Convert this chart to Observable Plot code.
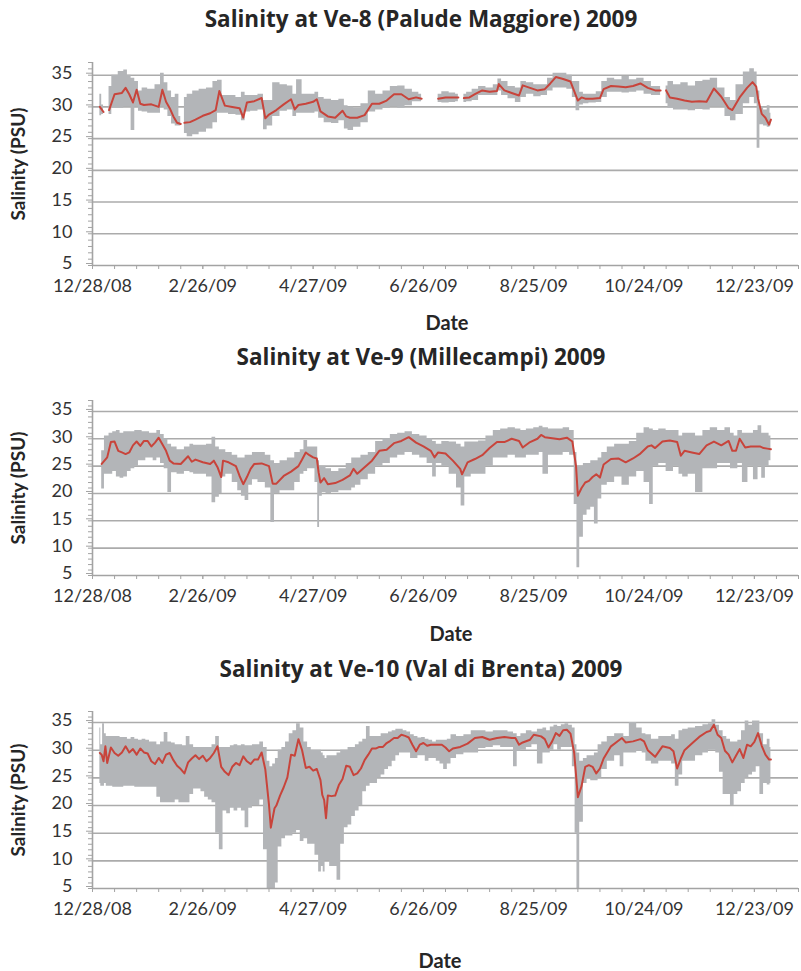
<!DOCTYPE html>
<html><head><meta charset="utf-8">
<script src="https://cdn.jsdelivr.net/npm/d3@7"></script>
<script src="https://cdn.jsdelivr.net/npm/@observablehq/plot@0.6"></script>
<style>
body{margin:0;background:#fff;}
#root{position:relative;width:801px;height:971px;overflow:hidden;background:#fff;font-family:Lato,"Open Sans",sans-serif;}
.panel{position:absolute;left:0;}
.title{position:absolute;left:0;width:842px;height:30px;line-height:30px;text-align:center;font-family:"Open Sans",Lato,sans-serif;font-weight:bold;font-size:22.5px;color:#262626;white-space:nowrap;}
.ylab{position:absolute;width:200px;height:24px;line-height:24px;text-align:center;font-weight:bold;font-size:19px;color:#262626;transform:rotate(-90deg);white-space:nowrap;}
.xlab{position:absolute;width:100px;height:24px;line-height:24px;text-align:center;font-weight:bold;font-size:20px;color:#262626;}
</style></head>
<body><div id="root"></div>
<script>
// ---------- data ----------
const titles = ["Salinity at Ve-8 (Palude Maggiore) 2009", "Salinity at Ve-9 (Millecampi) 2009", "Salinity at Ve-10 (Val di Brenta) 2009"];
const yLabel = "Salinity (PSU)";
const xLabel = "Date";
const xTickDays = [0, 60, 120, 180, 240, 300, 360];
const xTickLabels = ["12/28/08", "2/26/09", "4/27/09", "6/26/09", "8/25/09", "10/24/09", "12/23/09"];
const yTicks = [5, 10, 15, 20, 25, 30, 35];

// Ve-8 : days since 12/28/08, smoothed (red), min and max of raw record (grey)
const days1 = [4,6,7,9,12,16,18,20,22,24,
 26,28,32,36,38,40,42,44,46,48,
 49,50,53,56,60,64,67,69,72,76,
 80,82,84,88,92,94,96,100,104,108,
 110,112,116,120,122,124,128,132,136,138,
 140,144,148,152,156,160,164,168,172,176,
 179,183,188,192,196,199,200,202,205,208,
 212,216,220,221,224,228,232,234,238,242,
 246,249,252,256,260,262,264,266,268,272,
 276,278,282,286,290,294,298,302,306,309,
 311,312,314,318,322,326,330,334,338,342,
 346,348,352,356,359,361,362,364,366,368,
 369];
const mean1 = [30.0,29.2,null,29.5,32.0,32.2,33.0,32.0,30.7,32.7,
 30.5,30.3,30.4,30.0,32.7,30.8,29.8,28.5,27.5,27.3,
 null,27.5,27.6,28.0,28.6,29.0,29.5,32.5,30.2,30.0,
 29.8,28.3,30.7,30.9,31.4,28.2,28.8,29.5,30.4,31.2,
 29.6,30.3,30.5,30.8,31.2,29.3,28.5,28.3,29.4,28.5,
 28.3,28.3,28.7,30.5,30.5,31.0,32.0,32.0,31.2,31.5,
 31.3,null,31.3,31.5,31.5,31.5,null,31.4,31.5,32.0,
 32.6,32.4,32.5,33.6,32.6,32.2,31.8,33.4,33.0,32.6,
 32.8,33.7,34.7,34.4,34.0,32.5,31.0,31.5,31.3,31.3,
 31.4,32.8,33.3,33.2,33.1,33.3,33.7,33.0,32.6,32.6,
 null,32.6,31.5,31.3,31.0,30.8,30.9,30.8,32.9,31.6,
 29.8,29.5,31.5,33.0,33.9,33.2,31.3,28.9,28.3,27.2,
 28.0];
const lo1 = [28.6,28.8,null,28.8,29.8,29.8,30.0,30.0,26.3,30.0,
 29.3,29.2,29.0,29.0,30.0,29.5,28.5,27.3,27.0,27.0,
 null,25.8,25.3,25.6,26.0,26.5,27.5,29.0,29.0,28.8,
 28.7,27.8,29.2,29.3,29.5,26.4,27.0,28.5,29.3,29.5,
 28.5,29.0,29.0,29.0,29.2,28.2,27.5,27.4,27.8,26.5,
 26.3,26.8,27.5,29.2,29.5,29.8,30.0,29.8,30.2,30.8,
 30.8,null,30.7,30.6,30.7,30.8,null,30.7,30.8,31.0,
 31.8,31.8,31.8,32.5,31.8,31.3,30.7,31.5,32.0,31.6,
 31.8,32.5,33.0,33.0,32.8,31.5,29.4,30.3,30.5,30.6,
 30.7,31.5,32.3,32.3,32.2,32.3,32.5,32.0,31.8,31.8,
 null,30.5,29.8,29.5,29.5,29.4,29.6,29.5,30.0,30.0,
 28.5,27.8,28.8,30.5,31.5,30.5,23.5,27.2,27.0,26.8,
 27.0];
const hi1 = [32.0,30.3,null,33.2,35.0,35.6,35.8,35.0,34.5,34.0,
 32.5,33.0,32.8,33.5,35.3,33.8,32.5,31.5,32.0,28.5,
 null,31.5,32.0,32.5,32.8,33.0,34.0,34.2,31.8,31.8,
 31.5,32.3,31.8,31.8,32.0,31.0,31.0,33.8,33.5,33.3,
 32.0,34.3,32.0,32.0,32.3,31.5,31.2,31.0,31.2,30.2,
 30.0,29.8,30.5,32.5,32.0,32.5,33.2,33.3,32.8,32.3,
 32.0,null,32.0,32.4,32.2,32.0,null,32.0,32.3,32.8,
 33.2,33.0,33.5,34.4,34.0,33.2,33.0,34.0,33.8,33.5,
 33.5,34.5,35.3,35.3,35.0,34.0,34.0,32.3,32.0,32.0,
 32.4,34.0,34.5,34.3,34.8,34.3,34.5,34.0,33.2,33.2,
 null,33.3,34.0,33.5,33.8,33.3,34.0,34.2,34.5,33.0,
 31.5,31.0,33.5,35.5,36.0,35.5,32.5,30.0,29.5,30.2,
 29.0];

// Ve-9
const days2 = [5,8,10,12,14,16,18,20,22,24,
 26,28,30,32,34,36,38,40,42,44,
 48,52,54,56,60,64,66,68,70,71,
 74,78,80,82,84,86,88,92,96,98,
 100,104,108,112,114,116,118,120,122,123,
 124,126,128,132,136,140,142,144,148,152,
 156,160,164,168,172,176,180,184,186,188,
 192,196,200,201,204,208,212,216,220,224,
 228,232,234,238,242,244,246,250,254,258,
 261,263,264,266,268,270,272,274,276,278,
 282,286,290,294,298,302,304,306,310,314,
 318,320,322,326,330,334,338,342,346,348,
 350,352,355,358,361,363,365,367,369];
const mean2 = [25.4,26.6,29.4,29.5,27.8,27.5,27.2,27.5,28.8,29.5,
 28.7,29.6,29.6,28.6,29.3,30.2,29.0,27.8,26.0,25.5,
 25.4,26.8,25.8,26.2,25.7,25.4,26.0,24.8,23.0,26.0,
 25.7,25.0,23.2,21.7,23.0,24.5,25.4,25.5,25.0,21.8,
 21.8,23.2,24.0,25.0,26.2,27.5,27.0,26.6,26.4,23.8,
 22.0,22.8,21.7,21.9,22.5,23.3,24.5,23.6,24.8,26.0,
 27.8,28.0,29.2,29.6,30.3,29.3,28.6,27.8,26.6,27.5,
 27.3,26.0,24.5,23.5,25.7,26.3,27.0,28.3,29.4,29.4,
 30.0,29.6,28.4,29.4,30.0,30.7,30.3,30.1,29.9,30.2,
 29.5,25.0,19.6,21.0,22.0,22.3,23.0,23.5,22.9,25.3,
 26.3,26.4,25.7,26.4,27.3,28.6,28.8,28.3,29.5,29.7,
 29.4,26.9,27.8,27.5,27.2,28.8,29.5,28.8,29.6,27.8,
 27.8,30.0,28.4,28.6,28.6,28.6,28.3,28.2,28.1];
const lo2 = [20.8,23.5,23.5,24.0,23.0,22.8,23.0,24.0,24.5,25.0,
 26.0,26.0,26.5,26.5,26.0,26.5,25.5,24.5,20.2,23.8,
 23.5,24.0,23.8,23.5,23.5,23.0,18.3,19.3,20.0,23.0,
 23.5,22.0,20.5,19.5,18.7,21.5,22.5,22.0,21.0,14.7,
 20.0,20.5,20.5,22.0,23.5,24.0,24.5,24.5,22.0,13.8,
 19.5,20.2,20.0,20.2,20.5,20.5,21.0,21.5,22.5,23.5,
 25.0,25.5,26.5,27.0,27.5,27.0,26.5,25.5,23.0,25.5,
 25.0,23.5,21.0,17.7,23.0,23.5,23.5,25.0,26.5,26.5,
 27.0,26.5,26.5,27.0,27.0,27.5,23.5,27.0,27.0,27.5,
 27.0,18.0,6.4,12.0,16.0,17.0,17.5,14.4,19.0,21.5,
 22.0,23.0,21.5,23.0,24.0,22.0,18.0,25.0,25.5,24.0,
 25.0,23.5,23.0,23.5,20.2,24.5,24.5,25.5,25.5,24.5,
 24.5,25.5,22.0,25.0,22.5,25.0,22.8,25.0,26.0];
const hi2 = [27.8,30.5,31.0,31.3,31.5,31.0,31.3,31.3,31.3,31.5,
 31.5,31.3,31.3,31.0,31.0,31.5,30.8,30.0,29.0,28.5,
 28.0,28.5,29.0,28.8,28.8,29.0,30.3,28.5,28.0,28.0,
 27.5,27.0,26.5,26.5,27.0,27.0,27.5,27.5,27.0,26.0,
 25.5,26.0,26.5,27.5,28.0,29.7,28.5,28.5,28.5,26.0,
 25.0,25.0,24.5,24.0,24.5,25.5,26.5,26.5,27.0,27.5,
 29.5,30.0,30.8,31.0,31.3,30.8,30.5,30.0,29.5,29.0,
 29.5,29.4,29.0,28.5,29.4,29.4,29.6,30.5,31.5,31.8,
 32.0,31.8,31.5,31.8,32.0,32.3,32.0,31.8,31.8,32.0,
 31.5,27.5,25.0,25.0,25.5,25.5,26.0,26.0,26.5,27.5,
 28.5,29.0,29.0,29.5,31.0,32.0,31.8,31.5,31.8,31.5,
 31.5,30.5,31.0,31.0,30.5,31.5,32.0,31.5,32.0,31.0,
 30.5,31.5,31.0,31.0,31.5,32.4,31.0,31.0,30.5];

// Ve-10
const days3 = [4,5,6,7,8,10,12,14,16,18,
 20,22,24,26,28,30,32,34,36,38,
 40,42,44,46,48,50,52,54,56,58,
 60,62,64,66,68,70,72,74,76,78,
 80,82,84,86,88,90,92,94,96,97,
 99,100,102,104,106,108,110,112,114,116,
 118,120,122,124,125,126,127,128,130,132,
 134,136,138,140,142,144,146,148,150,152,
 154,156,158,160,162,164,166,168,170,172,
 174,176,178,180,182,184,186,188,190,192,
 194,196,200,204,208,212,216,220,224,228,
 230,232,234,238,240,244,246,248,250,252,
 254,256,258,260,262,263,264,266,268,270,
 272,274,276,278,282,286,288,290,294,298,
 300,302,306,310,314,316,318,320,322,326,
 330,334,336,338,340,342,344,346,348,350,
 352,354,356,358,360,362,364,366,368,369];
const mean3 = [29.5,29.2,28.0,30.7,27.7,30.5,29.5,29.0,29.6,30.7,
 29.6,30.2,29.2,30.3,29.6,29.4,28.0,27.5,28.6,27.7,
 29.2,29.5,28.2,27.2,26.6,25.8,27.8,28.5,29.1,28.4,
 29.0,28.0,28.6,29.5,30.7,27.0,26.1,25.5,27.0,27.7,
 27.3,28.9,28.0,27.5,28.3,28.3,29.6,26.5,20.1,16.0,
 19.5,20.0,21.8,23.3,25.1,29.2,29.0,32.0,30.0,26.8,
 27.0,26.3,26.6,24.6,21.9,21.0,17.7,21.8,21.7,21.8,
 23.7,24.8,27.2,27.0,25.5,25.8,26.7,28.2,29.2,30.3,
 30.3,30.6,30.6,31.3,31.7,32.2,32.2,32.8,32.6,32.3,
 31.0,29.8,31.0,31.3,30.8,31.0,31.0,31.0,31.0,30.5,
 29.8,30.3,30.6,31.2,32.2,32.4,31.9,32.2,32.4,32.2,
 32.2,31.0,31.4,31.9,32.8,32.5,32.0,30.5,31.6,33.1,
 32.6,33.6,33.7,33.0,29.5,25.5,21.5,23.5,27.0,27.3,
 27.0,25.8,26.7,28.5,30.7,31.7,32.2,31.4,31.6,32.0,
 31.6,30.0,28.8,30.7,30.4,29.8,26.7,28.5,30.0,31.2,
 32.4,33.3,33.5,34.6,32.8,32.2,29.9,29.2,27.8,29.0,
 30.2,28.6,31.0,30.7,31.5,33.1,30.8,29.2,28.3,28.3];
const lo3 = [24.0,23.5,23.5,24.0,23.5,23.5,23.3,23.3,23.3,23.5,
 23.5,23.5,23.3,23.3,23.3,23.3,23.3,23.3,21.5,20.5,
 20.5,20.5,20.5,21.0,20.5,20.5,20.5,22.0,23.0,23.0,
 22.5,21.5,21.0,20.5,15.0,12.0,19.0,18.5,19.5,19.0,
 19.5,19.0,16.0,19.5,20.0,20.0,21.0,12.0,5.0,5.0,
 5.0,6.0,12.5,14.0,14.5,14.5,15.0,15.5,13.5,14.0,
 13.0,13.0,11.0,8.0,9.0,8.0,10.0,10.0,9.0,9.0,
 6.5,13.0,16.0,16.5,18.0,19.0,20.0,22.5,23.5,24.0,
 24.0,25.0,25.5,26.5,27.0,28.0,29.0,29.5,29.5,29.5,
 28.5,28.5,29.0,29.0,28.0,28.5,28.5,28.0,27.5,26.5,
 27.5,28.5,29.2,29.5,29.5,30.3,30.5,30.8,30.5,30.5,
 27.0,29.8,30.0,30.5,31.0,27.5,29.5,29.5,30.0,31.0,
 30.0,30.5,30.5,30.5,27.0,15.0,5.0,17.0,24.0,25.0,
 24.5,24.5,25.0,26.5,28.0,29.0,27.0,29.5,29.5,29.8,
 29.5,28.0,27.5,28.0,28.0,27.5,23.5,25.5,28.0,28.0,
 29.0,29.5,30.0,30.0,29.5,26.0,22.0,22.0,20.0,22.0,
 22.5,24.0,25.0,25.5,26.0,27.0,22.0,24.0,23.7,24.0];
const hi3 = [34.0,31.0,34.8,33.0,32.5,32.5,32.5,32.5,32.3,32.3,
 32.0,32.3,32.0,31.8,32.0,31.8,31.5,31.5,31.0,31.5,
 33.2,31.5,31.3,31.0,31.0,30.8,32.5,31.0,30.5,30.5,
 30.5,30.5,30.5,31.0,32.5,30.5,30.5,30.5,30.8,31.0,
 30.8,31.0,30.8,30.8,31.0,31.0,31.5,30.5,28.0,27.0,
 27.5,28.5,30.0,30.5,31.5,33.0,33.5,34.8,34.0,31.5,
 30.5,30.0,30.0,30.0,29.5,29.0,28.5,29.0,29.0,29.0,
 29.5,30.0,30.0,30.5,30.5,31.0,31.5,32.0,34.3,32.5,
 32.5,32.5,33.0,33.0,33.3,33.5,33.8,33.8,33.5,33.3,
 32.8,32.5,32.2,32.3,32.0,31.8,31.5,31.8,31.8,31.8,
 32.0,32.8,32.5,32.8,33.5,33.5,33.3,33.5,33.5,33.3,
 33.0,32.5,33.0,33.5,33.3,33.8,34.0,33.5,34.2,34.5,
 34.3,34.6,34.8,34.5,34.0,31.0,29.5,28.0,28.5,29.0,
 29.0,29.5,31.0,31.5,32.5,33.0,33.0,32.5,35.0,34.0,
 33.0,32.8,32.0,32.5,32.5,32.8,32.0,33.5,33.8,34.0,
 34.3,34.6,34.8,35.5,34.5,33.5,32.5,32.0,31.5,31.5,
 31.8,33.5,35.3,34.5,35.3,35.3,33.0,31.0,32.0,30.5];

// ---------- layout ----------
const START = Date.UTC(2008, 11, 28);
const toDate = d => new Date(START + d * 864e5);
const xDomain = [toDate(0), toDate(384)];
const majorDates = xTickDays.map(toDate);
const labelMap = new Map(majorDates.map((d, i) => [+d, xTickLabels[i]]));
const minorDates = d3.range(0, 385, 12).map(toDate);
const yMinor = d3.range(5, 38, 1);

const panels = [
  {top: 0,   height: 335, mt: 62, mb: 70, titleY: 19,  dateX: 447, dateY: 322, days: days1, mean: mean1, lo: lo1, hi: hi1},
  {top: 335, height: 310, mt: 65, mb: 70, titleY: 357, dateX: 451, dateY: 633, days: days2, mean: mean2, lo: lo2, hi: hi2},
  {top: 645, height: 326, mt: 66, mb: 83, titleY: 669, dateX: 440, dateY: 960, days: days3, mean: mean3, lo: lo3, hi: hi3}
];

const root = document.getElementById("root");
const axisColor = "#a3a3a3";

panels.forEach((p, k) => {
  const rows = p.days.map((d, i) => ({date: toDate(d), mean: p.mean[i], lo: p.lo[i], hi: p.hi[i]}));
  const chart = Plot.plot({
    width: 801, height: p.height,
    marginTop: p.mt, marginBottom: p.mb, marginLeft: 92, marginRight: 3,
    x: {type: "utc", domain: xDomain},
    y: {domain: [5, 37]},
    style: {fontFamily: "Lato, 'Open Sans', sans-serif", fontSize: "18px", color: "#333", background: "transparent", overflow: "visible"},
    marks: [
      Plot.ruleY(yTicks.slice(1), {stroke: "#ababab", strokeWidth: 1.6}),
      Plot.areaY(rows, {x: "date", y1: "lo", y2: "hi", fill: "#b3b5b8", curve: "step"}),
      Plot.lineY(rows, {x: "date", y: "mean", stroke: "#c8443b", strokeWidth: 2}),
      Plot.ruleY([5], {stroke: axisColor, strokeWidth: 1.6}),
      Plot.ruleX([xDomain[0]], {y1: 5, y2: 37, stroke: axisColor, strokeWidth: 1.6}),
      Plot.axisY({ticks: yMinor, tickSize: 4, fill: "none", stroke: axisColor, label: null}),
      Plot.axisY({ticks: yTicks, tickSize: 6, tickPadding: 14, dy: -2, stroke: axisColor, fill: "#333", label: null}),
      Plot.axisX({ticks: minorDates, tickSize: 4, fill: "none", stroke: axisColor, label: null}),
      Plot.axisX({ticks: majorDates, tickSize: 4, tickPadding: 10, tickFormat: d => labelMap.get(+d), stroke: axisColor, fill: "#333", label: null})
    ]
  });
  chart.classList.add("panel");
  chart.style.top = p.top + "px";
  root.appendChild(chart);

  const t = document.createElement("div");
  t.className = "title"; t.textContent = titles[k];
  t.style.top = (p.titleY - 15) + "px";
  root.appendChild(t);

  const yl = document.createElement("div");
  yl.className = "ylab"; yl.textContent = yLabel;
  const mid = p.top + (p.mt + (p.height - p.mb)) / 2;
  yl.style.left = (18 - 100) + "px";
  yl.style.top = (mid - 12) + "px";
  root.appendChild(yl);

  const xl = document.createElement("div");
  xl.className = "xlab"; xl.textContent = xLabel;
  xl.style.left = (p.dateX - 50) + "px";
  xl.style.top = (p.dateY - 12) + "px";
  root.appendChild(xl);
});
</script>
</body></html>
